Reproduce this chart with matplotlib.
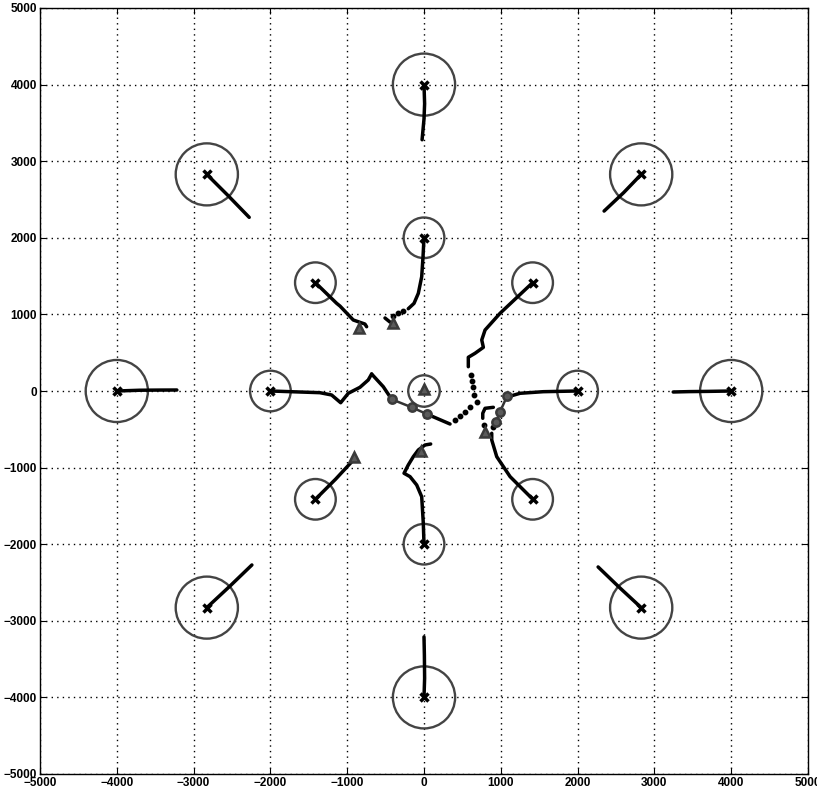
import matplotlib
matplotlib.use("Agg")
import matplotlib.pyplot as plt
from matplotlib.patches import Circle

# ---- data ----
agent_x = [0, 2828, 4000, 2828, 0, -2828, -4000, -2828,
           0, 1414, 2000, 1414, 0, -1414, -2000, -1414]
agent_y = [4000, 2828, 0, -2828, -4000, -2828, 0, 2828,
           2000, 1414, 0, -1414, -2000, -1414, 0, 1414]
agent_r = [405] * 8 + [265] * 8
center_xy = (0, 0)
center_r = 205

# solid trajectory segments (x list, y list)
seg_x = [
    [0, 8, 0, -25],
    [2828, 2600, 2345],
    [4000, 3700, 3450, 3245],
    [2828, 2550, 2267],
    [0, 8, 5, 0],
    [-2828, -2530, -2241],
    [-4000, -3700, -3450, -3218],
    [-2828, -2550, -2276],
    [0, -13, -30, -74, -130, -205],
    [-508, -443],
    [1414, 990, 795, 752, 773, 664, 577, 577],
    [1990, 1554, 1251, 1143, 1085],
    [903, 795, 765, 765],
    [1403, 1121, 947, 882, 882],
    [0, -9, -30, -95, -182, -260, -205, -139, -74, 13, 87],
    [-1414, -1138, -1094, -921, -769, -747],
    [-1414, -1150, -900],
    [-2000, -1356, -1203, -1085, -986, -834, -726, -682],
    [-682, -530, -421],
    [35, 339],
]
seg_y = [
    [4000, 3750, 3550, 3280],
    [2828, 2590, 2349],
    [0, -5, -8, -13],
    [-2828, -2570, -2297],
    [-4000, -3750, -3450, -3210],
    [-2828, -2550, -2271],
    [0, 10, 12, 13],
    [2828, 2550, 2267],
    [2000, 1749, 1492, 1275, 1144, 1074],
    [953, 900],
    [1414, 1014, 796, 666, 570, 492, 440, 317],
    [0, -9, -30, -61, -61],
    [-213, -226, -291, -356],
    [-1400, -1118, -857, -639, -552],
    [-2000, -1727, -1380, -1227, -1118, -1074, -966, -857, -770, -705, -692],
    [1414, 1145, 1109, 927, 874, 839],
    [-1414, -1150, -880],
    [0, -22, -52, -153, -30, 48, 144, 222],
    [222, 56, -108],
    [-300, -431],
]

# sparse (dotted) trajectory samples
dot_x = [-270, -335, -408, 608, 621, 634, 651, 686,
         404, 469, 534, 599, 903, 785]
dot_y = [1048, 1022, 979, 209, 134, 56, -52, -140,
         -378, -326, -270, -213, -466, -440]

# circle markers linked in chains
chain_x = [[-421, -160, 35], [1085, 990, 938]]
chain_y = [[-108, -213, -300], [-61, -270, -401]]

# triangle markers
tri_x = [-843, -400, -912, -43, 795, 0]
tri_y = [818, 891, -866, -779, -531, 20]

ticks = [-5000, -4000, -3000, -2000, -1000, 0, 1000, 2000, 3000, 4000, 5000]

# ---- figure ----
fig = plt.figure(figsize=(8.17, 7.94), dpi=100)
ax = fig.add_axes([40 / 817, 20 / 794, 768 / 817, 766 / 794])

circ_col = "#444444"
for x, y, r in zip(agent_x, agent_y, agent_r):
    ax.add_patch(Circle((x, y), r, fill=False, ec=circ_col, lw=1.7, zorder=2))
ax.add_patch(Circle(center_xy, center_r, fill=False, ec=circ_col, lw=1.7, zorder=2))

for xs, ys in zip(seg_x, seg_y):
    ax.plot(xs, ys, color="black", lw=2.5, solid_capstyle="round",
            solid_joinstyle="round", zorder=3)
ax.plot(dot_x, dot_y, ls="none", marker="o", ms=3.2, color="black", zorder=3)

for xs, ys in zip(chain_x, chain_y):
    ax.plot(xs, ys, color="#333333", lw=1.8, zorder=4)
    ax.plot(xs, ys, ls="none", marker="o", ms=6, mfc="#5a5a5a",
            mec="#3a3a3a", mew=1.8, zorder=5)

ax.plot(tri_x, tri_y, ls="none", marker="^", ms=7, mfc="#5a5a5a",
        mec="#3a3a3a", mew=1.8, zorder=5)
ax.plot(agent_x, agent_y, ls="none", marker="x", ms=6, mew=2.5,
        color="black", zorder=6)

ax.set_xlim(-5000, 5000)
ax.set_ylim(-5000, 5000)
ax.set_xticks(ticks)
ax.set_yticks(ticks)
lbl = [("\u2212" + str(-t)) if t < 0 else str(t) for t in ticks]
ax.set_xticklabels(lbl, fontsize=8.5, fontweight="bold", family="Liberation Sans")
ax.set_yticklabels(lbl, fontsize=8.5, fontweight="bold", family="Liberation Sans")
ax.grid(True, ls=(0, (1, 3)), color="black", lw=1.0)
ax.tick_params(direction="in", length=4, width=0.8, top=True, right=True, pad=2)
for s in ax.spines.values():
    s.set_linewidth(1.0)

fig.savefig("out.png", dpi=100)
